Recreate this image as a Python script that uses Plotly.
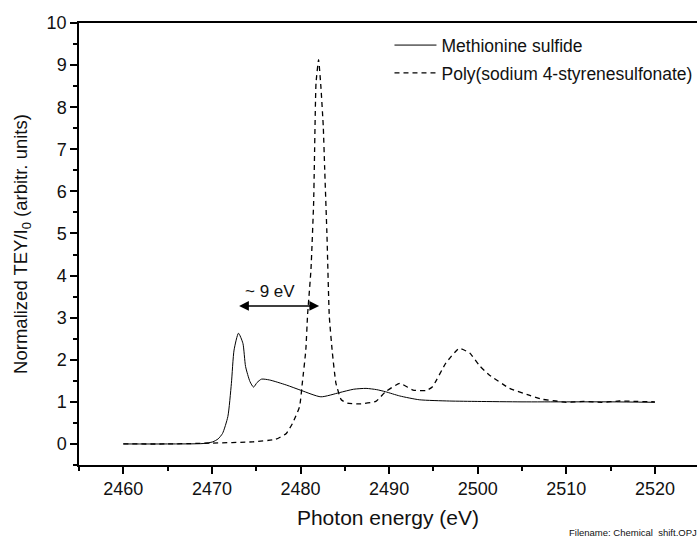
import plotly.graph_objects as go

# Methionine sulfide (solid line)
energy_ms = [2460, 2465, 2469, 2470.1, 2470.7, 2471.2, 2471.8, 2472.2, 2472.5, 2473.0,
             2473.5, 2473.8, 2474.3, 2474.7, 2475.1, 2475.6, 2476.5, 2478.4, 2480.1,
             2482.3, 2484.4, 2486.0, 2487.4, 2488.6, 2489.6, 2491.2, 2493.4, 2496.8,
             2500, 2505, 2510, 2515, 2520]
tey_ms = [0, 0, 0.01, 0.05, 0.12, 0.25, 0.65, 1.44, 2.23, 2.63,
          2.39, 1.84, 1.48, 1.35, 1.46, 1.54, 1.52, 1.40, 1.27,
          1.12, 1.22, 1.30, 1.32, 1.29, 1.24, 1.14, 1.05, 1.02,
          1.01, 1.0, 1.0, 1.0, 0.99]

# Poly(sodium 4-styrenesulfonate) (dashed line)
energy_pss = [2460, 2465, 2470, 2474.6, 2477.2, 2478.4, 2479.1, 2479.9, 2480.2, 2480.6,
              2480.8, 2481.18, 2481.48, 2481.56, 2481.75, 2482.04, 2482.3, 2482.57,
              2482.72, 2482.99, 2483.25, 2483.6, 2484.0, 2484.6, 2485.3, 2486.6,
              2488.5, 2489.6, 2491.2, 2492.7, 2494.2, 2494.9, 2496.4, 2497.9, 2499.1,
              2500.2, 2501.3, 2503.6, 2505.8, 2507.3, 2508.8, 2510, 2512, 2514, 2516,
              2518, 2520]
tey_pss = [0, 0, 0.02, 0.05, 0.11, 0.25, 0.49, 0.89, 1.44, 2.23,
           3.07, 4.14, 5.72, 6.59, 8.57, 9.13, 8.49, 7.54,
           6.59, 4.93, 3.03, 2.16, 1.44, 1.05, 0.97, 0.95,
           1.01, 1.24, 1.44, 1.28, 1.27, 1.36, 1.92, 2.27, 2.16,
           1.86, 1.64, 1.32, 1.16, 1.06, 1.02, 0.99, 1.01, 0.99, 1.02,
           1.01, 1.0]

x_ticks = [2460, 2470, 2480, 2490, 2500, 2510, 2520]
y_ticks = [0, 1, 2, 3, 4, 5, 6, 7, 8, 9, 10]

shift_start = 2472.9
shift_end = 2482.1
shift_level = 3.28
shift_label = "~ 9 eV"

FONT = "Liberation Sans, Arial, sans-serif"

fig = go.Figure()
fig.add_trace(go.Scatter(
    x=energy_ms, y=tey_ms, mode="lines", name="Methionine sulfide", legendgroup="a",
    line=dict(color="black", width=1, shape="spline", smoothing=0.6)))
fig.add_trace(go.Scatter(
    x=energy_pss, y=tey_pss, mode="lines", name="Poly(sodium 4-styrenesulfonate)",
    legendgroup="b",
    line=dict(color="black", width=1.3, dash="5px,4px", shape="spline", smoothing=0.4)))

axis_common = dict(
    showline=True, linecolor="black", linewidth=1.5,
    ticks="outside", ticklen=7, tickwidth=1.5, tickcolor="black",
    showgrid=False, zeroline=False,
    tickfont=dict(family=FONT, size=18, color="#111"),
)

fig.update_layout(
    width=697, height=538,
    margin=dict(l=79, r=0, t=23, b=73, autoexpand=False),
    plot_bgcolor="white", paper_bgcolor="white",
    font=dict(family=FONT, color="#111"),
    showlegend=True,
    legend=dict(x=0.5024, y=0.9905, xanchor="left", yanchor="top",
                font=dict(family=FONT, size=17.5, color="#111"),
                traceorder="grouped", tracegroupgap=2,
                bgcolor="rgba(0,0,0,0)", itemwidth=42),
    xaxis=dict(
        range=[2455, 2524.75], tickvals=x_ticks, mirror=True,
        minor=dict(dtick=5, ticks="outside", ticklen=4, tickwidth=1.5, tickcolor="black"),
        title=dict(text="Photon energy (eV)", font=dict(family=FONT, size=21, color="#111"),
                   standoff=12),
        **axis_common),
    yaxis=dict(
        range=[-0.5, 10], tickvals=y_ticks,
        minor=dict(dtick=0.5, tick0=0, ticks="outside", ticklen=4, tickwidth=1.5, tickcolor="black"),
        title=dict(text="Normalized TEY/I<sub>0</sub> (arbitr. units)",
                   font=dict(family=FONT, size=18.5, color="#111"), standoff=14),
        **axis_common),
)

fig.add_annotation(
    x=shift_end, y=shift_level, ax=shift_start, ay=shift_level,
    xref="x", yref="y", axref="x", ayref="y",
    text="", showarrow=True, arrowhead=2, startarrowhead=2, arrowside="end+start",
    arrowsize=1.3, arrowwidth=1.5, arrowcolor="black")
fig.add_annotation(
    x=(shift_start + shift_end) / 2 - 0.9, y=shift_level + 0.34, xref="x", yref="y",
    text=shift_label, showarrow=False,
    font=dict(family=FONT, size=17, color="#111"))
fig.add_annotation(
    x=0.789, y=-0.1535, xref="paper", yref="paper", xanchor="left", yanchor="middle",
    text="Filename: Chemical  shift.OPJ", showarrow=False,
    font=dict(family=FONT, size=9.5, color="#111"))

fig.write_html("out.html")
